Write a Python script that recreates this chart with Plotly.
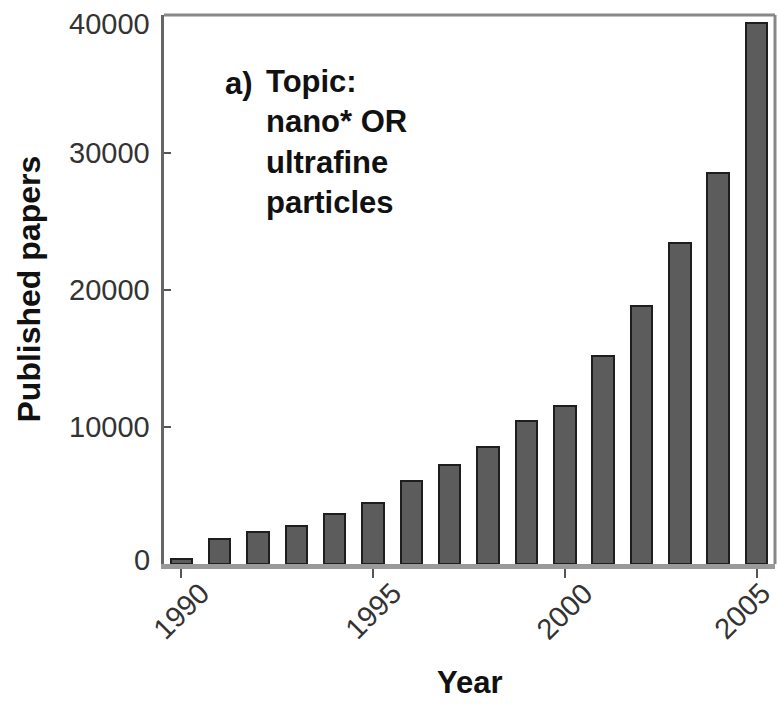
import plotly.graph_objects as go

years = list(range(1990, 2006))
papers = [400, 1800, 2300, 2750, 3650, 4450, 6050, 7250, 8550, 10400,
          11550, 15200, 18850, 23400, 28500, 39500]
x_ticks = [1990, 1995, 2000, 2005]
y_ticks = [0, 10000, 20000, 30000, 40000]
annotation_lines = ["Topic:", "nano* OR", "ultrafine", "particles"]

FONT = "Liberation Sans, Arial, sans-serif"

fig = go.Figure()
fig.add_trace(go.Bar(
    x=years, y=papers, width=0.56,
    marker=dict(color="#5c5c5c", line=dict(color="#1e1e1e", width=2)),
    showlegend=False,
))

W, H = 778, 704
L, R, T, B = 164, 3, 15, 140
X_RANGE = [1989.55, 2005.48]
Y_RANGE = [0, 40060]
fig.update_layout(
    width=W, height=H,
    margin=dict(l=L, r=R, t=T, b=B, pad=0),
    paper_bgcolor="white", plot_bgcolor="white",
    bargap=0,
    font=dict(family=FONT, color="#222"),
)
fig.update_xaxes(
    range=X_RANGE, tickvals=x_ticks, showticklabels=False,
    ticks="outside", ticklen=9, tickwidth=2, tickcolor="#555",
    showline=True, linecolor="#9a9a9a", linewidth=5,
    showgrid=False, zeroline=False,
)
fig.update_yaxes(
    range=Y_RANGE, tickvals=y_ticks, showticklabels=False,
    ticks="inside", ticklen=7, tickwidth=2, tickcolor="#555",
    showline=True, linecolor="#666", linewidth=3,
    showgrid=False, zeroline=False,
)

# top and right frame lines
fig.add_shape(type="line", xref="paper", yref="paper", x0=0, x1=1, y0=1, y1=1,
              line=dict(color="#888", width=3))
fig.add_shape(type="line", xref="paper", yref="paper", x0=1, x1=1, y0=0, y1=1,
              line=dict(color="#888", width=3))

# y tick labels, kept inside the frame height like the original
plot_h = H - T - B
for v in y_ticks:
    py = T + (1 - (v - Y_RANGE[0]) / (Y_RANGE[1] - Y_RANGE[0])) * plot_h
    target = min(max(py, T + 9), H - B - 4)
    fig.add_annotation(x=0, xref="paper", y=v, yref="y", text=str(v),
                       showarrow=False, xanchor="right", yanchor="middle",
                       xshift=-12, yshift=py - target,
                       font=dict(size=29, color="#333", family=FONT))

# rotated x tick labels centred under ticks
plot_w = W - L - R
for v in x_ticks:
    px = L + (v - X_RANGE[0]) / (X_RANGE[1] - X_RANGE[0]) * plot_w
    shift = min(0, (W - 36) - px)
    fig.add_annotation(x=v, xref="x", y=0, yref="paper", text=str(v),
                       textangle=-45, showarrow=False, xanchor="center",
                       yanchor="middle", yshift=-47, xshift=shift,
                       font=dict(size=29, color="#333", family=FONT))

# axis titles
fig.add_annotation(x=0.5, xref="paper", y=0, yref="paper", text="Year",
                   showarrow=False, xanchor="center", yanchor="bottom",
                   yshift=-(B - 2),
                   font=dict(size=31, color="#111", family=FONT, weight="bold"))
fig.add_annotation(x=0, xref="paper", y=0.5, yref="paper", text="Published papers",
                   textangle=-90, showarrow=False, xanchor="center", yanchor="middle",
                   xshift=28 - L, font=dict(size=32, color="#111", family=FONT, weight="bold"))

# panel label
fig.add_annotation(x=0, xref="paper", y=1, yref="paper", text="a)",
                   showarrow=False, xanchor="left", yanchor="middle",
                   xshift=223 - L, yshift=-(83 - T),
                   font=dict(size=31, color="#111", family=FONT, weight="bold"))
fig.add_annotation(x=0, xref="paper", y=1, yref="paper",
                   text="<br>".join(annotation_lines), align="left",
                   showarrow=False, xanchor="left", yanchor="top",
                   xshift=264 - L, yshift=-(62 - T),
                   font=dict(size=31, color="#111", family=FONT, weight="bold"))

fig.write_html("out.html", config={"displayModeBar": False},
               post_script="document.body.style.margin='0';document.body.style.overflow='hidden';")
